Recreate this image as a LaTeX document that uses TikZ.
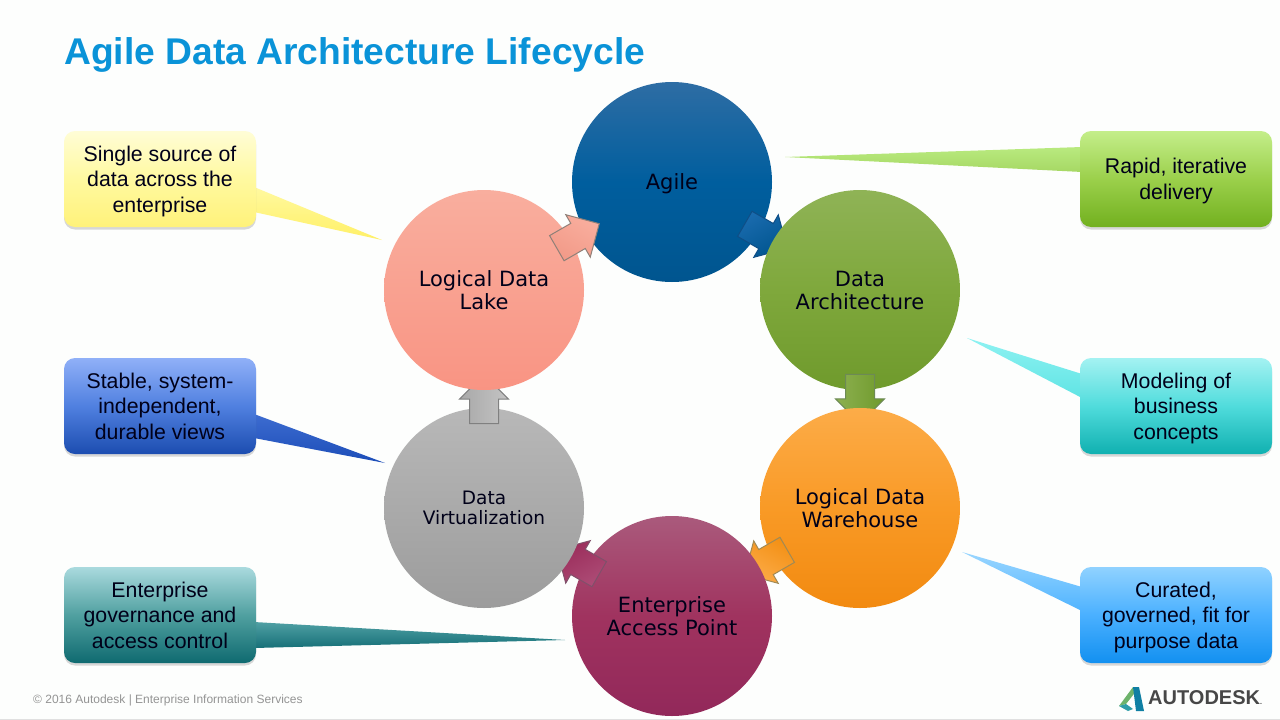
\documentclass[tikz,border=0pt]{standalone}
\usepackage{fontspec}
\setmainfont{Liberation Sans}
\newfontfamily\circfont{DejaVu Sans}
\usetikzlibrary{shapes.arrows,shadows,calc}
\definecolor{bgc}{HTML}{FDFEFD}
\definecolor{titlec}{HTML}{0A93D8}
\def\dc#1{\definecolor{HTML#1}{HTML}{#1}}
\dc{2E6DA4}\dc{00558F}\dc{005E9E}\dc{0F4E86}\dc{1A6BAE}
\dc{8FB356}\dc{6F9A2C}\dc{7FA83C}\dc{6D8A55}\dc{8DB050}
\dc{FCAC48}\dc{F28A10}\dc{F99A26}\dc{A08A55}\dc{F39015}
\dc{AA5A7C}\dc{92285A}\dc{A0335F}\dc{80506A}\dc{AD4C76}\dc{9A2C5A}
\dc{B8B8B8}\dc{9C9C9C}\dc{808080}\dc{C4C4C4}\dc{A8A8A8}
\dc{F9AE9E}\dc{F99483}\dc{8F8078}\dc{F29A88}
\dc{B9EA7F}\dc{A6D864}\dc{8EF2F2}\dc{60E4E4}\dc{9AD6FF}\dc{50B4FF}
\dc{4FA0A4}\dc{177078}\dc{3D6CD0}\dc{1C4DB8}\dc{FFF9A0}\dc{FFF066}
\dc{C4EE8A}\dc{72B01F}\dc{9BD04B}\dc{A4F2F2}\dc{10B0B0}\dc{50DCDC}
\dc{90D2FF}\dc{1290F0}\dc{4AB0FF}\dc{AADADE}\dc{0F6A70}\dc{50A0A0}
\dc{90B0F8}\dc{1C4DB0}\dc{5080E0}\dc{FFFDD6}\dc{FFF27A}
\dc{2F9DA8}\dc{6DB36B}\dc{0F7FA3}
\tikzset{
  x=1pt,y=-1pt,
  circ/.style={circle,minimum size=200pt,inner sep=0pt,align=center,text=black!90!blue,
     font=\circfont\fontsize{21}{23}\selectfont,text depth=0pt},
  callbox/.style={rounded corners=11pt,minimum width=192pt,minimum height=96pt,inner sep=0pt,align=center,
     text=black!90!blue,font=\fontsize{21.3}{25.5}\selectfont,text depth=0pt,
     drop shadow={shadow xshift=0pt,shadow yshift=-2.5pt,opacity=.3}},
  flow/.style={single arrow,single arrow head extend=10pt,single arrow head indent=0pt,anchor=tail,
     minimum height=49pt,minimum width=48pt,inner xsep=0pt,inner ysep=14pt,line width=1pt},
  tailshape/.style={line width=0pt}
}
\begin{document}
\begin{tikzpicture}
\useasboundingbox (0,0) rectangle (1280,720);
\fill[bgc] (0,0) rectangle (1280,720);
\fill[black!12] (0,718.5) rectangle (1280,720);

\node[anchor=west,inner sep=0pt,text=titlec,font=\bfseries\fontsize{37.2}{40}\selectfont] (title) at (64,54.5) {Agile Data Architecture Lifecycle};

% circles and flow arrows, in stacking order
\node[circ,top color=HTML2E6DA4,bottom color=HTML00558F,middle color=HTML005E9E] (agile) at (672,182) {Agile};
\node[flow,rotate=-30,draw=HTML0F4E86,top color=HTML1A6BAE,bottom color=HTML00558F,shading angle=30] (a1) at ($(agile)!0.385!(860,290)$) {};
\node[circ,top color=HTML8FB356,bottom color=HTML6F9A2C,middle color=HTML7FA83C] (arch) at (860,290) {Data\\Architecture};
\node[flow,rotate=-90,draw=HTML6D8A55,top color=HTML8DB050,bottom color=HTML6F9A2C,shading angle=90] (a2) at ($(arch)!0.385!(860,508)$) {};
\node[circ,top color=HTMLFCAC48,bottom color=HTMLF28A10,middle color=HTMLF99A26] (dw) at (860,508) {Logical Data\\Warehouse};
\node[flow,rotate=-150,draw=HTMLA08A55,top color=HTMLFCAC48,bottom color=HTMLF39015,shading angle=150] (a3) at ($(dw)!0.385!(672,616)$) {};
\node[circ,top color=HTMLAA5A7C,bottom color=HTML92285A,middle color=HTMLA0335F] (eap) at (672,616) {Enterprise\\Access Point};
\node[flow,rotate=150,draw=HTML80506A,top color=HTMLAD4C76,bottom color=HTML9A2C5A,shading angle=-150] (a4) at ($(eap)!0.385!(484,508)$) {};
\node[circ,top color=HTMLB8B8B8,bottom color=HTML9C9C9C,font=\circfont\fontsize{18.5}{20}\selectfont] (virt) at (484,508) {Data\\Virtualization};
\node[flow,rotate=90,draw=HTML808080,top color=HTMLC4C4C4,bottom color=HTMLA8A8A8,shading angle=-90] (a5) at ($(virt)!0.385!(484,290)$) {};
\node[circ,top color=HTMLF9AE9E,bottom color=HTMLF99483] (lake) at (484,290) {Logical Data\\Lake};
\node[flow,rotate=30,draw=HTML8F8078,top color=HTMLF9AE9E,bottom color=HTMLF29A88,shading angle=-30] (a6) at ($(lake)!0.385!(agile)$) {};

% call-out tails
\coordinate (tA) at (785,157);
\coordinate (tB) at (967,338);
\coordinate (tC) at (962,552);
\coordinate (tD) at (565,640);
\coordinate (tE) at (385,463);
\coordinate (tF) at (382,240);
\shade[tailshape,top color=HTMLB9EA7F,bottom color=HTMLA6D864] (1082,147) -- (tA) -- (1082,172) -- cycle;
\shade[tailshape,top color=HTML8EF2F2,bottom color=HTML60E4E4] (1082,374) -- (tB) -- (1082,398) -- cycle;
\shade[tailshape,top color=HTML9AD6FF,bottom color=HTML50B4FF] (1082,587) -- (tC) -- (1082,611) -- cycle;
\shade[tailshape,top color=HTML4FA0A4,bottom color=HTML177078] (254,622) -- (tD) -- (254,648) -- cycle;
\shade[tailshape,top color=HTML3D6CD0,bottom color=HTML1C4DB8] (254,414) -- (tE) -- (254,438) -- cycle;
\shade[tailshape,top color=HTMLFFF9A0,bottom color=HTMLFFF066] (254,187) -- (tF) -- (254,212) -- cycle;

% call-out boxes
\node[callbox,top color=HTMLC4EE8A,bottom color=HTML72B01F,middle color=HTML9BD04B] (bA) at (1176,179) {Rapid, iterative\\delivery};
\node[callbox,top color=HTMLA4F2F2,bottom color=HTML10B0B0,middle color=HTML50DCDC] (bB) at (1176,406) {Modeling of\\business\\concepts};
\node[callbox,top color=HTML90D2FF,bottom color=HTML1290F0,middle color=HTML4AB0FF] (bC) at (1176,615) {Curated,\\governed, fit for\\purpose data};
\node[callbox,top color=HTMLAADADE,bottom color=HTML0F6A70,middle color=HTML50A0A0] (bD) at (160,615) {Enterprise\\governance and\\access control};
\node[callbox,top color=HTML90B0F8,bottom color=HTML1C4DB0,middle color=HTML5080E0] (bE) at (160,406) {Stable, system-\\independent,\\durable views};
\node[callbox,top color=HTMLFFFDD6,bottom color=HTMLFFF27A,middle color=HTMLFFF9A0] (bF) at (160,179) {Single source of\\data across the\\enterprise};

% footer
\node[anchor=west,inner sep=0pt,text=black!42,font=\fontsize{12}{14}\selectfont] (foot) at (33,700.5) {© 2016 Autodesk | Enterprise Information Services};
\fill[HTML6DB36B] (1119,706) -- (1133,687) -- (1137,690) -- (1126,704) -- cycle;
\fill[HTML2F9DA8] (1119,706) -- (1126,704) -- (1133,709) -- (1128,711) -- cycle;
\fill[HTML0F7FA3] (1133,687) -- (1139,687) -- (1144,711) -- (1136,711) -- cycle;
\node[anchor=west,inner sep=0pt,text=black!72,font=\bfseries\fontsize{20}{22}\selectfont] (logo) at (1148,698) {AUTODESK{\fontsize{7}{8}\selectfont.}};
\end{tikzpicture}
\end{document}
